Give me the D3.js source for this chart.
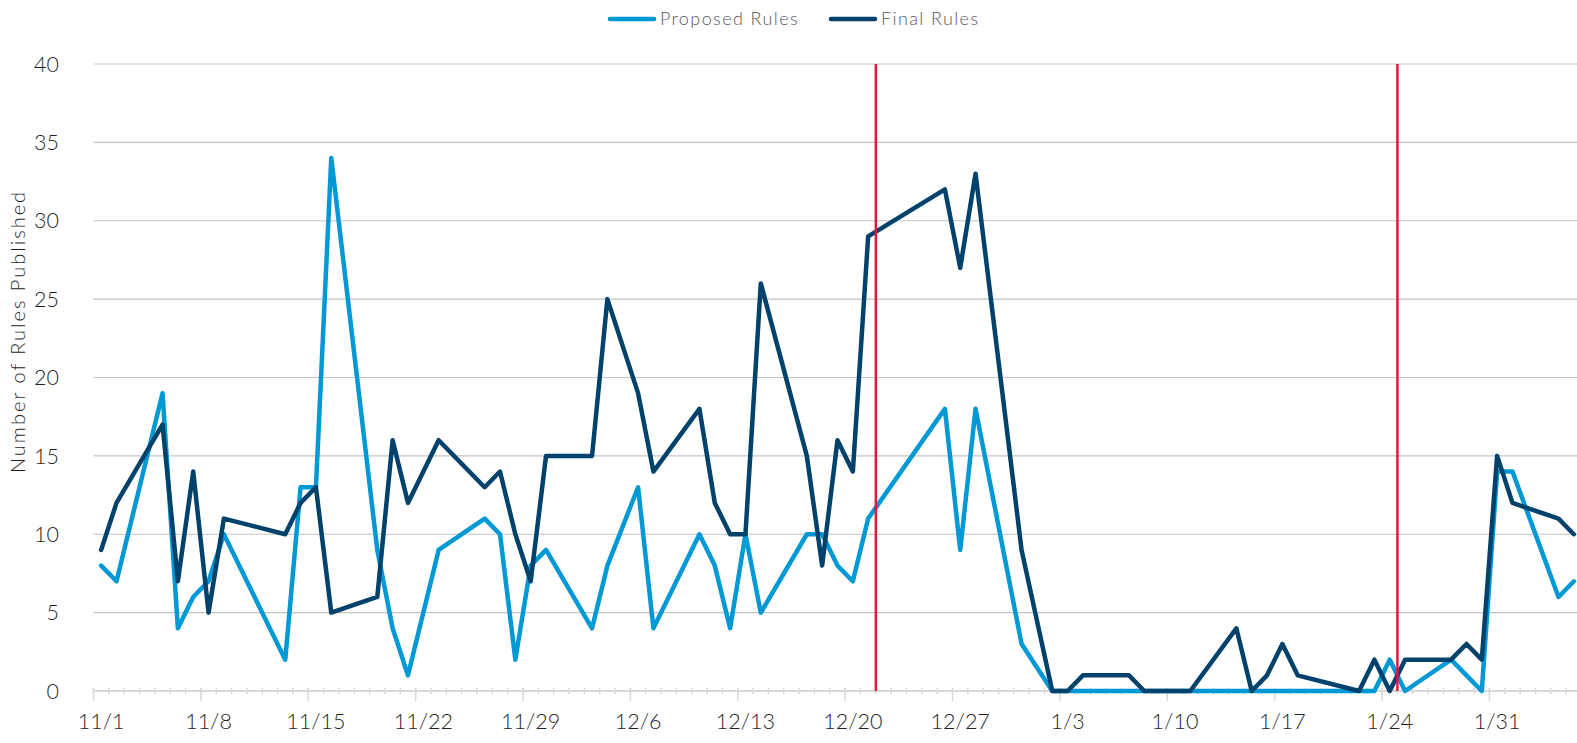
<!DOCTYPE html>
<html>
<head>
<meta charset="utf-8">
<script src="https://cdn.jsdelivr.net/npm/d3@7"></script>
<style>
  html, body { margin: 0; padding: 0; background: #fff; }
  svg { display: block; font-family: "Lato", "Open Sans", sans-serif; }
</style>
</head>
<body>
<svg id="chart" width="1577" height="743"></svg>
<script>
// ---- data ----
const dates = [
  "2018-11-01","2018-11-02","2018-11-05","2018-11-06","2018-11-07","2018-11-08","2018-11-09",
  "2018-11-13","2018-11-14","2018-11-15","2018-11-16","2018-11-19","2018-11-20","2018-11-21",
  "2018-11-23","2018-11-26","2018-11-27","2018-11-28","2018-11-29","2018-11-30","2018-12-03",
  "2018-12-04","2018-12-06","2018-12-07","2018-12-10","2018-12-11","2018-12-12","2018-12-13",
  "2018-12-14","2018-12-17","2018-12-18","2018-12-19","2018-12-20","2018-12-21","2018-12-26",
  "2018-12-27","2018-12-28","2018-12-31","2019-01-02","2019-01-03","2019-01-04","2019-01-07",
  "2019-01-08","2019-01-09","2019-01-10","2019-01-11","2019-01-14","2019-01-15","2019-01-16",
  "2019-01-17","2019-01-18","2019-01-22","2019-01-23","2019-01-24","2019-01-25","2019-01-28",
  "2019-01-29","2019-01-30","2019-01-31","2019-02-01","2019-02-04","2019-02-05"
];
const proposedRules = [
  8,7,19,4,6,7,10,
  2,13,13,34,9,4,1,
  9,11,10,2,8,9,4,
  8,13,4,10,8,4,10,
  5,10,10,8,7,11,18,
  9,18,3,0,0,0,0,
  0,0,0,0,0,0,0,
  0,0,0,0,2,0,2,
  1,0,14,14,6,7
];
const finalRules = [
  9,12,17,7,14,5,11,
  10,12,13,5,6,16,12,
  16,13,14,10,7,15,15,
  25,19,14,18,12,10,10,
  26,15,8,16,14,29,32,
  27,33,9,0,0,1,1,
  0,0,0,0,4,0,1,
  3,1,0,2,0,2,2,
  3,2,15,12,11,10
];
const seriesNames = ["Proposed Rules", "Final Rules"];
const seriesColors = ["#0099d6", "#00426b"];
const yTicks = [0, 5, 10, 15, 20, 25, 30, 35, 40];
const xTickDates = ["2018-11-01","2018-11-08","2018-11-15","2018-11-22","2018-11-29","2018-12-06",
  "2018-12-13","2018-12-20","2018-12-27","2019-01-03","2019-01-10","2019-01-17","2019-01-24","2019-01-31"];
const xTickLabels = ["11/1","11/8","11/15","11/22","11/29","12/6","12/13","12/20","12/27","1/3","1/10","1/17","1/24","1/31"];
const markerDates = ["2018-12-22", "2019-01-25"];
const axisStart = "2018-11-01", axisEnd = "2019-02-06";

// ---- layout ----
const svg = d3.select("#chart");
const plotLeft = 93.5, plotRight = 1581.5, plotTop = 64, plotBottom = 691;
const parse = s => new Date(s + "T00:00:00Z");
const x = d3.scaleUtc().domain([parse(axisStart), parse(axisEnd)]).range([plotLeft, plotRight]);
const y = d3.scaleLinear().domain([0, 40]).range([plotBottom, plotTop]);
const mid = d => x(d3.utcHour.offset(d, 12));
const textColor = "#1f1f1f";

// gridlines
svg.append("g").selectAll("line").data(yTicks.filter(t => t > 0)).join("line")
  .attr("x1", plotLeft).attr("x2", 1577)
  .attr("y1", d => y(d)).attr("y2", d => y(d))
  .attr("stroke", "#c4c4c4").attr("stroke-width", 1.2);

// y labels
svg.append("g").selectAll("text").data(yTicks).join("text")
  .attr("x", 59).attr("y", d => y(d)).attr("dy", "0.36em")
  .attr("text-anchor", "end").attr("font-size", 21.5).attr("font-weight", 300)
  .attr("fill", textColor).text(d => d);

// y title
svg.append("text")
  .attr("transform", `translate(25, ${(plotTop + plotBottom) / 2 - 46}) rotate(-90)`)
  .attr("text-anchor", "middle").attr("font-size", 20).attr("font-weight", 300)
  .attr("letter-spacing", 2)
  .attr("fill", textColor).text("Number of Rules Published");

// x axis line
svg.append("line").attr("x1", plotLeft).attr("x2", 1577).attr("y1", plotBottom).attr("y2", plotBottom)
  .attr("stroke", "#d9d9d9").attr("stroke-width", 2);

// minor ticks (day boundaries)
const days = d3.utcDay.range(parse(axisStart), d3.utcDay.offset(parse(axisEnd), 1));
svg.append("g").selectAll("line").data(days).join("line")
  .attr("x1", d => x(d)).attr("x2", d => x(d))
  .attr("y1", plotBottom - 3).attr("y2", plotBottom + 3)
  .attr("stroke", "#d9d9d9").attr("stroke-width", 1.5);

// major ticks
const majors = xTickDates.map(parse);
svg.append("g").selectAll("line").data(majors).join("line")
  .attr("x1", d => x(d)).attr("x2", d => x(d))
  .attr("y1", plotBottom - 3).attr("y2", plotBottom + 10)
  .attr("stroke", "#d9d9d9").attr("stroke-width", 1.5);

// x labels
svg.append("g").selectAll("text").data(majors).join("text")
  .attr("x", d => mid(d)).attr("y", 729)
  .attr("text-anchor", "middle").attr("font-size", 21.5).attr("font-weight", 300)
  .attr("fill", textColor).text((d, i) => xTickLabels[i]);

// series
const parsedDates = dates.map(parse);
const line = d3.line().x(d => mid(d.date)).y(d => y(d.value));
[proposedRules, finalRules].forEach((vals, i) => {
  const data = vals.map((v, j) => ({ date: parsedDates[j], value: v }));
  svg.append("path").datum(data)
    .attr("d", line).attr("fill", "none")
    .attr("stroke", seriesColors[i]).attr("stroke-width", 4.5)
    .attr("stroke-linejoin", "round").attr("stroke-linecap", "round");
});

// marker lines
svg.append("g").selectAll("line").data(markerDates.map(parse)).join("line")
  .attr("x1", d => x(d)).attr("x2", d => x(d))
  .attr("y1", plotTop).attr("y2", plotBottom)
  .attr("stroke", "#e3173e").attr("stroke-width", 2.5);

// legend
const legend = svg.append("g");
const legendItems = [{ x: 610, name: seriesNames[0], color: seriesColors[0] },
                     { x: 831, name: seriesNames[1], color: seriesColors[1] }];
legendItems.forEach(it => {
  legend.append("line").attr("x1", it.x).attr("x2", it.x + 44).attr("y1", 19).attr("y2", 19)
    .attr("stroke", it.color).attr("stroke-width", 4.5).attr("stroke-linecap", "round");
  legend.append("text").attr("x", it.x + 50).attr("y", 19).attr("dy", "0.35em")
    .attr("font-size", 18).attr("font-weight", 300).attr("letter-spacing", 1.4)
    .attr("fill", "#595959").text(it.name);
});
</script>
</body>
</html>
